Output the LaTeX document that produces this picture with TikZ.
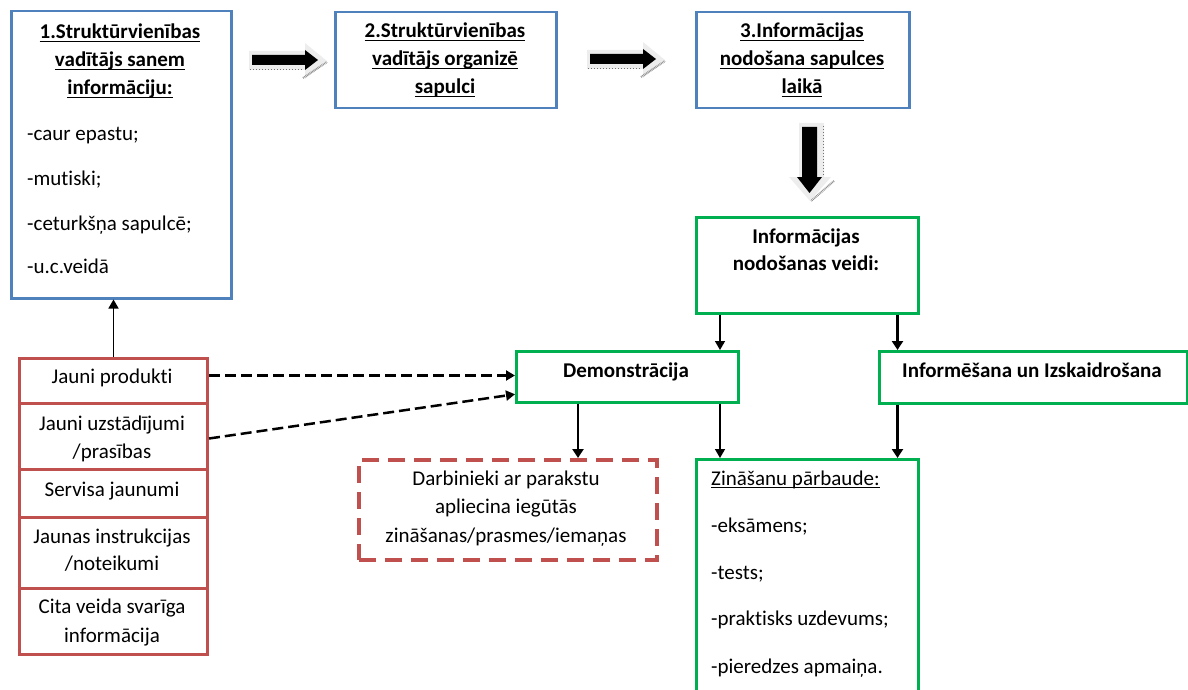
\documentclass[tikz,border=0pt]{standalone}
\usepackage{fontspec}
\setmainfont[Ligatures=NoCommon]{Carlito}
\usetikzlibrary{arrows.meta,calc}
\definecolor{bblue}{HTML}{4F81BD}
\definecolor{ggreen}{HTML}{00B050}
\definecolor{rred}{HTML}{C0504D}
\newcommand{\dfont}{\fontsize{21}{28}\selectfont}
\newsavebox{\ulbox}
\newcommand{\myul}[1]{\sbox{\ulbox}{#1}\rlap{\rule[-3pt]{\wd\ulbox}{1.2pt}}\usebox{\ulbox}}
\begin{document}
\begin{tikzpicture}[x=1pt,y=-1pt,
  box/.style={draw, line width=2.5pt, inner sep=0, anchor=north west},
  bluebox/.style={box, draw=bblue},
  greenbox/.style={box, draw=ggreen},
  redcell/.style={draw=rred, line width=3pt, inner sep=0, anchor=north west, minimum width=188pt},
  arr/.style={-{Triangle[length=9pt,width=10pt]}, line width=1.5pt},
  thickarr/.style={-{Triangle[length=9pt,width=11pt]}, line width=2.5pt},
  dasharr/.style={-{Triangle[length=9pt,width=10pt]}, line width=2.5pt, dash pattern=on 11pt off 5pt},
  tl/.style={inner sep=0, anchor=base, font=\dfont},
  tlb/.style={tl, font=\dfont\bfseries},
  tll/.style={inner sep=0, anchor=base west, font=\dfont},
  shade/.style={fill=black!7},
  hatch/.style={draw=black!45, line width=2pt, dash pattern=on 0.8pt off 0.8pt},
  dots/.style={draw=black!55, line width=1pt, dash pattern=on 1.2pt off 1.8pt}
]
\useasboundingbox (0,0) rectangle (1188,690);

% ---- top boxes
\node[bluebox, minimum width=220pt, minimum height=287pt] (b1) at (10,10) {};
\node[bluebox, minimum width=221pt, minimum height=96pt] (b2) at (334,11) {};
\node[bluebox, minimum width=213pt, minimum height=96pt] (b3) at (695,11) {};

\node[tlb] (h1a) at (120,39) {\myul{1.Struktūrvienības}};
\node[tlb] (h1b) at (120,67) {\myul{vadītājs sanem}};
\node[tlb] (h1c) at (120,95) {\myul{informāciju:}};
\node[tll] (i1a) at (27,140) {-caur epastu;};
\node[tll] (i1b) at (27,185) {-mutiski;};
\node[tll] (i1c) at (27,230) {-ceturkšņa sapulcē;};
\node[tll] (i1d) at (27,273) {-u.c.veidā};

\node[tlb] (h2a) at (445,38) {\myul{2.Struktūrvienības}};
\node[tlb] (h2b) at (445,66) {\myul{vadītājs organizē}};
\node[tlb] (h2c) at (445,94) {\myul{sapulci}};

\node[tlb] (h3a) at (802,38) {\myul{3.Informācijas}};
\node[tlb] (h3b) at (802,66) {\myul{nodošana sapulces}};
\node[tlb] (h3c) at (802,94) {\myul{laikā}};

% ---- block arrows (decorative)
\foreach \dx/\dy in {0/0, 338/-1} {
\begin{scope}[shift={(\dx,\dy)}]
  \path[shade] (249,51) -- (305,51) -- (305,43) -- (327,61) -- (305,79) -- (305,70) -- (249,70) -- cycle;
  \draw[dots] (250,70) -- (302,70);
  \draw[hatch] (303,78) -- (327,62);
  \fill[black] (252,55) -- (305,55) -- (305,50) -- (318,60) -- (305,70) -- (305,65) -- (252,65) -- cycle;
\end{scope}
}
\path[shade] (799,123) -- (824,123) -- (824,177) -- (831,177) -- (810,201) -- (789,177) -- (799,177) -- cycle;
\draw[dots] (823,126) -- (823,175);
\draw[hatch] (834,181) -- (811,201);
\fill[black] (802,127) -- (817,127) -- (817,177) -- (822,177) -- (809.5,193) -- (797,177) -- (802,177) -- cycle;

% ---- green boxes
\node[greenbox, minimum width=222pt, minimum height=96pt] (veidi) at (695,216) {};
\node[tlb] (va) at (806,243) {Informācijas};
\node[tlb] (vb) at (806,270) {nodošanas veidi:};

\node[greenbox, minimum width=222pt, minimum height=51pt] (demo) at (515,350) {};
\node[tlb] (dt) at (626,377) {Demonstrācija};

\node[greenbox, minimum width=308pt, minimum height=52pt] (inf) at (878,350) {};
\node[tlb] (it) at (1032,377) {Informēšana un Izskaidrošana};

\node[greenbox, minimum width=222pt, minimum height=245pt] (zin) at (695,458) {};
\node[tll] (za) at (711,485) {\myul{Zināšanu pārbaude:}};
\node[tll] (zb) at (711,532) {-eksāmens;};
\node[tll] (zc) at (711,579) {-tests;};
\node[tll] (zd) at (711,625) {-praktisks uzdevums;};
\node[tll] (ze) at (711,673) {-pieredzes apmaiņa.};

% ---- dashed red box
\node[draw=rred, line width=4pt, dash pattern=on 17pt off 9pt, inner sep=0, anchor=north west,
      minimum width=298pt, minimum height=100pt] (dbox) at (357,458) {};
\node[tl] (da) at (506,485) {Darbinieki ar parakstu};
\node[tl] (db) at (506,513) {apliecina iegūtās};
\node[tl] (dc) at (506,542) {zināšanas/prasmes/iemaņas};

% ---- red stack
\node[redcell, minimum height=45pt] (r1) at (18,357) {};
\node[redcell, minimum height=66pt] (r2) at (18,402) {};
\node[redcell, minimum height=48pt] (r3) at (18,468) {};
\node[redcell, minimum height=71pt] (r4) at (18,516) {};
\node[redcell, minimum height=66pt] (r5) at (18,587) {};
\node[tl] (r1t) at (112,383) {Jauni produkti};
\node[tl] (r2t) at (112,430) {Jauni uzstādījumi};
\node[tl] (r2u) at (112,458) {/prasības};
\node[tl] (r3t) at (112,496) {Servisa jaunumi};
\node[tl] (r4t) at (112,543) {Jaunas instrukcijas};
\node[tl] (r4u) at (112,570) {/noteikumi};
\node[tl] (r5t) at (112,613) {Cita veida svarīga};
\node[tl] (r5u) at (112,642) {informācija};

% ---- connectors
\draw[arr] (r1.north) -- (r1.north |- b1.south);
\draw[dasharr] ([yshift=5.5pt]r1.east) -- ([yshift=5.5pt]r1.east -| demo.west);
\draw[dasharr] ([yshift=-2pt]r2.east) -- ([yshift=-17.5pt]demo.west);
\draw[arr] ([xshift=25pt]veidi.south west) -- ([xshift=25pt]veidi.south west |- demo.north);
\draw[thickarr] ([xshift=-22pt]veidi.south east) -- ([xshift=-22pt]veidi.south east |- inf.north);
\draw[thickarr] ([xshift=63pt]demo.south west) -- ([xshift=63pt]demo.south west |- dbox.north);
\draw[arr] ([xshift=25pt]zin.north west |- demo.south) -- ([xshift=25pt]zin.north west);
\draw[thickarr] ([xshift=-22pt]zin.north east |- inf.south) -- ([xshift=-22pt]zin.north east);
\end{tikzpicture}
\end{document}
